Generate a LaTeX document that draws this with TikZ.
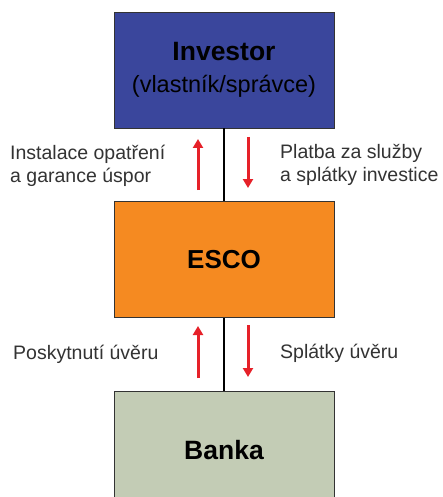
\documentclass[tikz,border=0pt]{standalone}
\usepackage{fontspec}
\setmainfont{Liberation Sans}
\usetikzlibrary{arrows.meta,positioning}
\definecolor{investorblue}{HTML}{3A469C}
\definecolor{escoorange}{HTML}{F58A21}
\definecolor{bankgreen}{HTML}{C3CCB5}
\definecolor{flowred}{HTML}{E62129}
\definecolor{labelgray}{HTML}{333333}

\begin{document}
\begin{tikzpicture}[x=1pt,y=-1pt,
  node distance=73pt,
  party/.style={draw=black!80,line width=0.8pt,minimum width=220pt,minimum height=116pt,align=center,inner sep=0pt},
  link/.style={line width=2.5pt,black},
  flow/.style={-{Triangle[length=9pt,width=10pt]},line width=3pt,flowred},
  lbl/.style={font=\fontsize{19.5}{23.5}\selectfont,text=labelgray,align=left,inner sep=0pt}]
  \fill[white] (0,0) rectangle (443,497);
  \useasboundingbox (0,0) rectangle (443,497);
  \node[party,fill=investorblue,font=\fontsize{23.5}{32}\selectfont] (inv) at (224,70) {{\fontsize{26.5}{32}\selectfont\bfseries Investor}\\(vlastník/správce)};
  \node[party,fill=escoorange,below=of inv] (esco) {\fontsize{26}{30}\selectfont\bfseries ESCO};
  \node[party,fill=bankgreen,below=of esco] (bank) {\fontsize{26.5}{30}\selectfont\bfseries Banka};
  \draw[link] (inv) -- (esco);
  \draw[link] (esco) -- (bank);
  % flows between investor and esco
  \coordinate (upA) at (198,190);
  \coordinate (upB) at (198,139);
  \coordinate (downA) at (248,137);
  \coordinate (downB) at (248,188);
  \draw[flow] (upA) -- (upB);
  \draw[flow] (downA) -- (downB);
  % flows between esco and bank
  \coordinate (loanA) at (198,378);
  \coordinate (loanB) at (198,326);
  \coordinate (repayA) at (248,325);
  \coordinate (repayB) at (248,377);
  \draw[flow] (loanA) -- (loanB);
  \draw[flow] (repayA) -- (repayB);
  \node[lbl,anchor=west] (instal) at (10,166) {Instalace opatření\\a garance úspor};
  \node[lbl,anchor=west] (platba) at (280,165) {Platba za služby\\a splátky investice};
  \node[lbl,anchor=base west] (posk) at (13,359) {Poskytnutí úvěru};
  \node[lbl,anchor=base west] (splat) at (280,358) {Splátky úvěru};
\end{tikzpicture}
\end{document}
